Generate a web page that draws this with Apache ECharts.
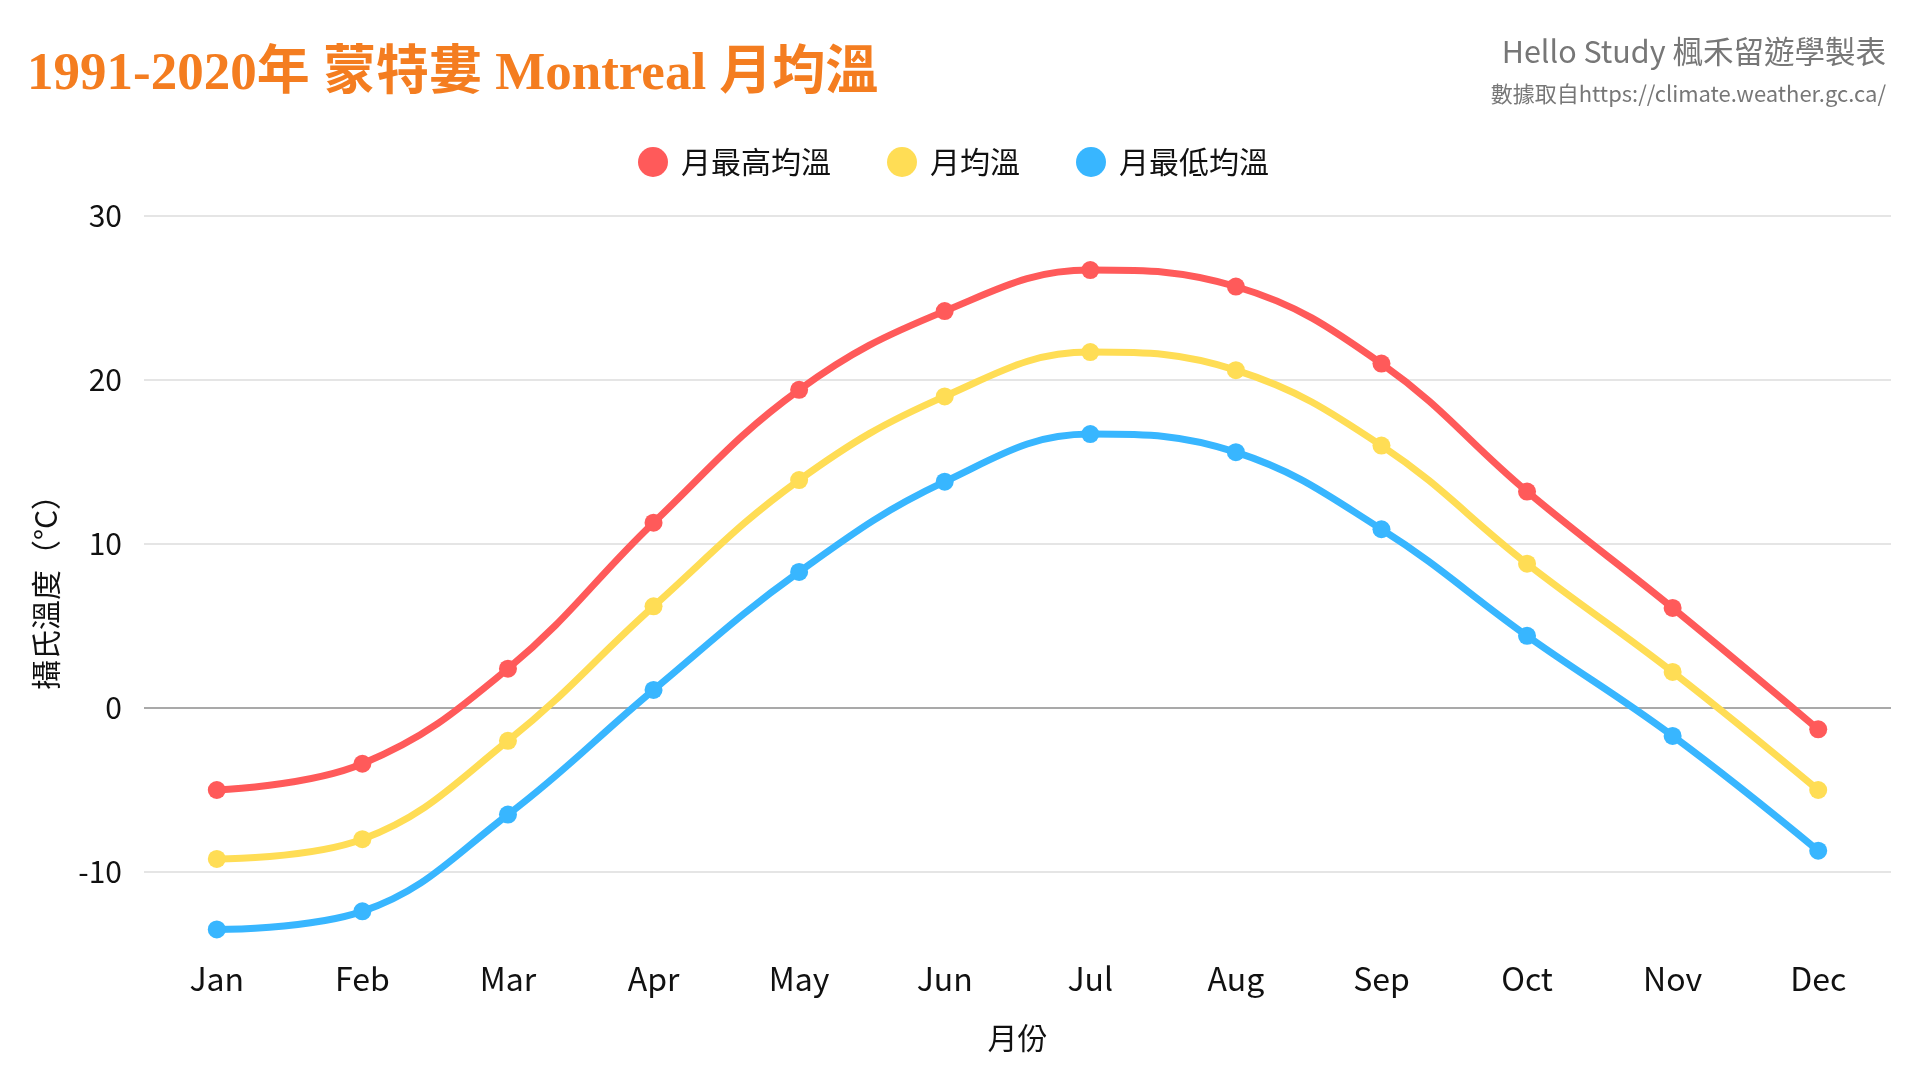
<!DOCTYPE html>
<html>
<head>
<meta charset="utf-8">
<title>Montreal 月均溫</title>
<script src="https://cdn.jsdelivr.net/npm/echarts@6/dist/echarts.min.js"></script>
<style>
  html, body { margin: 0; padding: 0; background: #fff; }
  #chart { width: 1920px; height: 1080px; }
</style>
</head>
<body>
<div id="chart"></div>
<script>
// 1991-2020 climate normals
const months = ['Jan', 'Feb', 'Mar', 'Apr', 'May', 'Jun', 'Jul', 'Aug', 'Sep', 'Oct', 'Nov', 'Dec'];
const maxTemp = [-5.0, -3.4, 2.4, 11.3, 19.4, 24.2, 26.7, 25.7, 21.0, 13.2, 6.1, -1.3];
const meanTemp = [-9.2, -8.0, -2.0, 6.2, 13.9, 19.0, 21.7, 20.6, 16.0, 8.8, 2.2, -5.0];
const minTemp = [-13.5, -12.4, -6.5, 1.1, 8.3, 13.8, 16.7, 15.6, 10.9, 4.4, -1.7, -8.7];
const yTicks = [-10, 0, 10, 20, 30];

const font = '"Noto Sans CJK TC", "Noto Sans", sans-serif';

// split lines every 5 from -15; only multiples of 10 are drawn, 0 is darker
const splitColors = [];
for (let v = -15; v <= 30; v += 5) {
  if (v === 0) splitColors.push('#8c8c8c');
  else if (yTicks.indexOf(v) >= 0) splitColors.push('#dcdcdc');
  else splitColors.push('rgba(0,0,0,0)');
}

const makeSeries = function(name, data, color) {
  return {
    name: name,
    type: 'line',
    data: data,
    smooth: 0.4,
    symbol: 'circle',
    symbolSize: 18,
    itemStyle: { color: color },
    lineStyle: { color: color, width: 7 },
    emphasis: { disabled: true }
  };
};

const chart = echarts.init(document.getElementById('chart'));
chart.setOption({
  backgroundColor: '#fff',
  animation: false,
  title: [
    {
      text: '1991-2020年 蒙特婁 Montreal 月均溫',
      left: 22,
      top: 40,
      textStyle: {
        fontFamily: '"Liberation Serif", "Noto Sans CJK TC", serif',
        fontSize: 53,
        lineHeight: 60,
        fontWeight: 'bold',
        color: '#F47D20'
      }
    },
    {
      text: 'Hello Study 楓禾留遊學製表',
      right: 29,
      top: 28,
      textStyle: { fontFamily: font, fontSize: 30.5, lineHeight: 36, fontWeight: 'normal', color: '#777' }
    },
    {
      text: '數據取自https://climate.weather.gc.ca/',
      right: 29,
      top: 76,
      textStyle: { fontFamily: font, fontSize: 22, lineHeight: 26, fontWeight: 'normal', color: '#777' }
    }
  ],
  legend: {
    top: 142,
    left: 633,
    icon: 'circle',
    itemWidth: 30,
    itemHeight: 30,
    itemGap: 56,
    textStyle: { fontFamily: font, fontSize: 30, color: '#111', padding: [0, 0, 0, 8] },
    data: ['月最高均溫', '月均溫', '月最低均溫']
  },
  grid: { left: 144, right: 29, top: 216, bottom: 126 },
  xAxis: {
    type: 'category',
    data: months,
    boundaryGap: true,
    name: '月份',
    nameLocation: 'middle',
    nameGap: 69,
    nameTextStyle: { fontFamily: font, fontSize: 30, color: '#111' },
    axisLine: { show: false },
    axisTick: { show: false },
    axisLabel: { fontFamily: font, fontSize: 32, color: '#111', margin: 9 }
  },
  yAxis: {
    type: 'value',
    min: -15,
    max: 30,
    interval: 5,
    name: '攝氏溫度（°C）',
    nameLocation: 'middle',
    nameGap: 83,
    nameRotate: 90,
    nameTextStyle: { fontFamily: font, fontSize: 30, color: '#111' },
    axisLine: { show: false },
    axisTick: { show: false },
    axisLabel: {
      fontFamily: font,
      fontSize: 30,
      color: '#111',
      margin: 22,
      formatter: function(v) { return yTicks.indexOf(v) >= 0 ? String(v) : ''; }
    },
    splitLine: { show: true, lineStyle: { color: splitColors, width: 1.5 } }
  },
  series: [
    makeSeries('月最高均溫', maxTemp, '#FF5A5A'),
    makeSeries('月均溫', meanTemp, '#FFDD55'),
    makeSeries('月最低均溫', minTemp, '#38B6FF')
  ]
});
</script>
</body>
</html>
